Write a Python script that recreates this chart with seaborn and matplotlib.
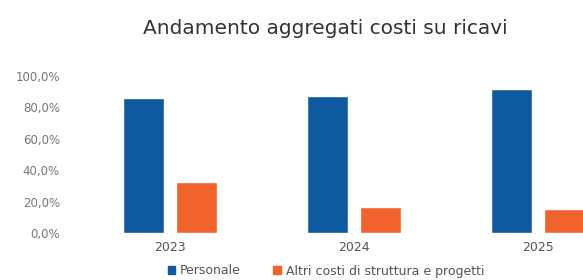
import matplotlib
matplotlib.use("Agg")
import matplotlib.pyplot as plt
import pandas as pd
import seaborn as sns
from matplotlib.ticker import FuncFormatter

years = ["2023", "2024", "2025"]
series = ["Personale", "Altri costi di struttura e progetti"]
personale = [0.86, 0.87, 0.92]
altri_costi = [0.325, 0.164, 0.15]
colors = ["#0f5a9e", "#f2622c"]

df = pd.DataFrame({
    "Anno": years * 2,
    "Voce": [series[0]] * 3 + [series[1]] * 3,
    "Valore": personale + altri_costi,
})

sns.set_style("white")
plt.rcParams["font.family"] = ["DejaVu Sans"]

fig = plt.figure(figsize=(5.83, 2.80), dpi=100)
# axes runs past the right edge, like the cropped original
ax = fig.add_axes([78 / 583, 47 / 280, 552 / 583, 157 / 280])

sns.barplot(data=df, x="Anno", y="Valore", hue="Voce", palette=colors,
            width=0.576, gap=0.225, saturation=1, ax=ax, legend=False)

ax.set_ylim(0, 1.0)
ax.set_yticks([0, 0.2, 0.4, 0.6, 0.8, 1.0])
ax.yaxis.set_major_formatter(FuncFormatter(lambda v, p: f"{v * 100:.1f}%".replace(".", ",")))
ax.set_xlabel("")
ax.set_ylabel("")
ax.tick_params(axis="y", labelsize=8.5, colors="#777777", length=0, pad=13)
ax.tick_params(axis="x", labelsize=9, colors="#555555", length=0, pad=6)
sns.despine(ax=ax, left=True, bottom=True)

fig.text(325 / 583, 1 - 28 / 280, "Andamento aggregati costi su ricavi",
         ha="center", va="center", fontsize=14.5, color="#333333")

handles = [plt.Rectangle((0, 0), 1, 1, color=c) for c in colors]
fig.legend(handles, series, loc="center", bbox_to_anchor=(326 / 583, 1 - 271 / 280),
           ncol=2, frameon=False, fontsize=9, handlelength=0.6, handleheight=0.6,
           handletextpad=0.4, columnspacing=2.6, labelcolor="#555555")

fig.savefig("out.png", dpi=100)
